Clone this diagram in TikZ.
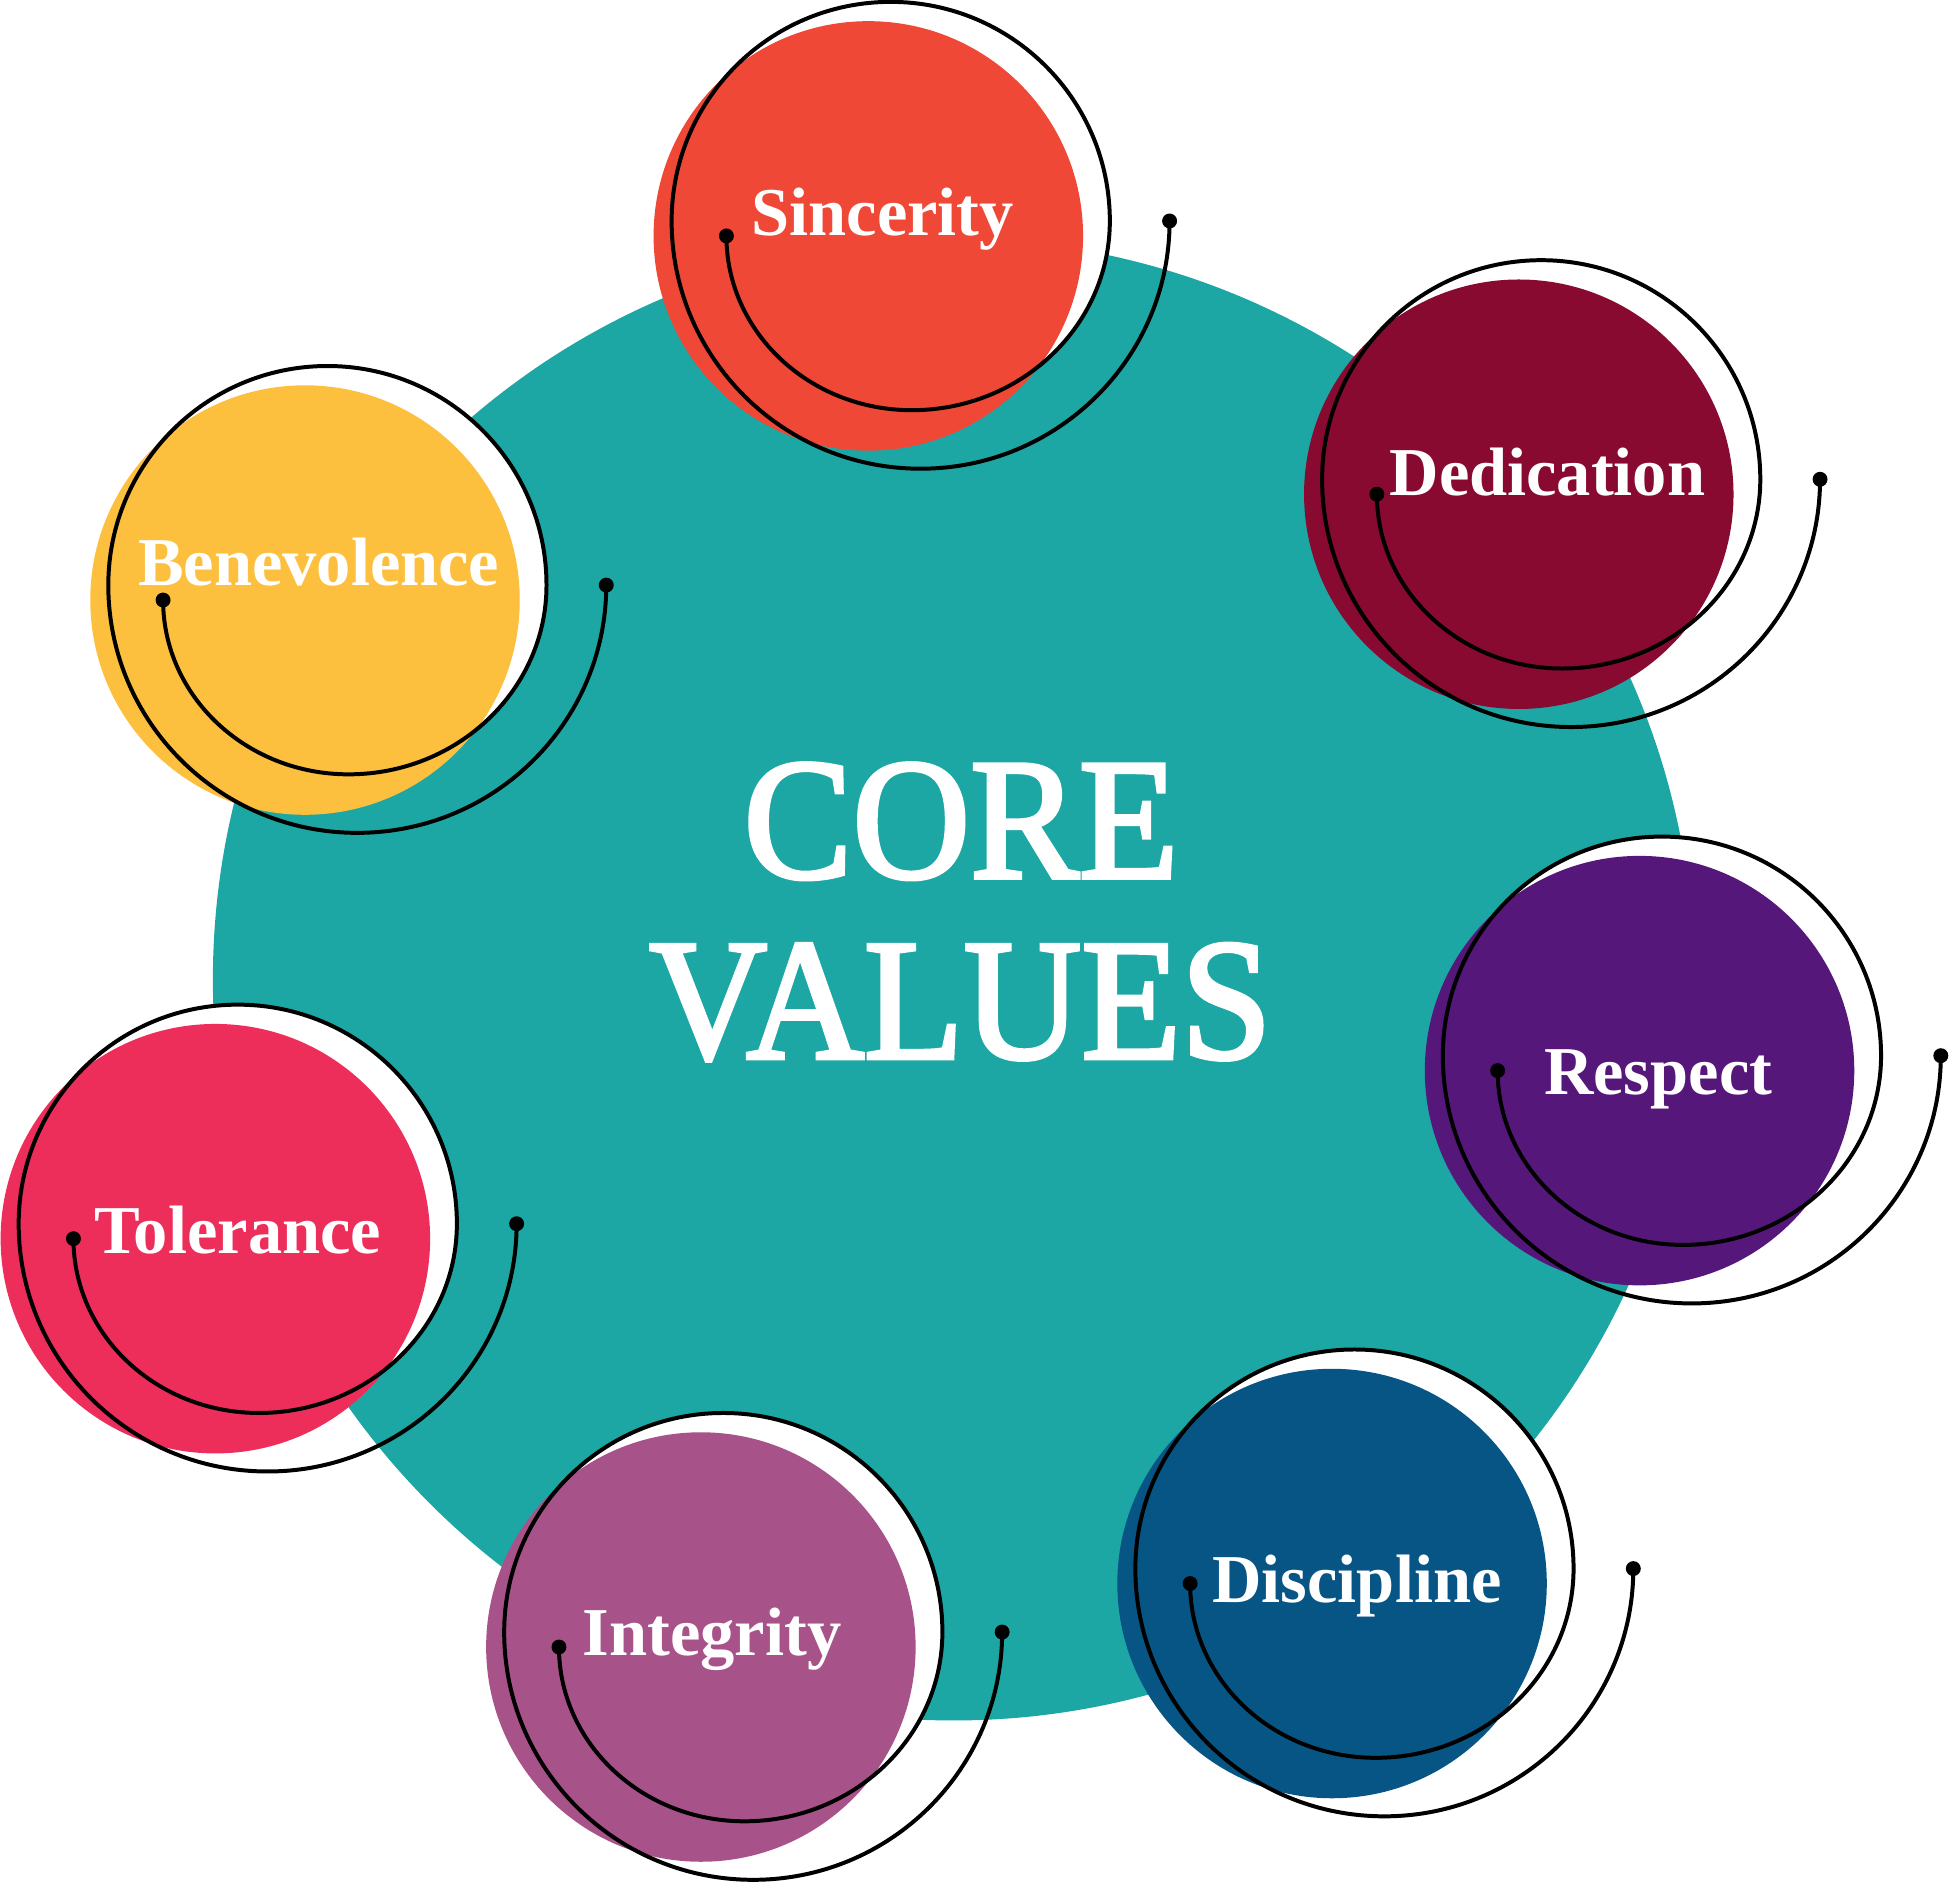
\documentclass[tikz,border=0pt]{standalone}
\usepackage{fontspec}
\setmainfont{Liberation Serif}
\newcommand\thicktext[1]{\special{pdf:literal direct 2 Tr 1.6 w}#1\special{pdf:literal direct 0 Tr}}
\definecolor{coreteal}{HTML}{1CA7A4}
\definecolor{csinc}{HTML}{EF4836}
\definecolor{cdedi}{HTML}{880A31}
\definecolor{cresp}{HTML}{55187A}
\definecolor{cdisc}{HTML}{075585}
\definecolor{cinte}{HTML}{A8528A}
\definecolor{ctole}{HTML}{EE2E5A}
\definecolor{cbene}{HTML}{FDBF3E}
\tikzset{
  valuedisc/.style={circle, inner sep=0pt, minimum size=172.5pt},
  spiralline/.style={line width=1.6pt, draw=black, line cap=round},
  valuetext/.style={text=white, font=\bfseries\fontsize{27.5}{30}\selectfont, anchor=base, inner sep=0pt},
  titletext/.style={text=white, font=\fontsize{65.5}{70}\selectfont, anchor=base, inner sep=0pt},
}
\newcommand\valueitem[7]{%
  \fill[white] (#2-114,#3)
     arc[start angle=180, end angle=90, x radius=149, y radius=140]
     arc[start angle=90, end angle=0, x radius=159, y radius=152]
     arc[start angle=0, end angle=-180, radius=176] -- cycle;
  \node[valuedisc, fill=#4] (#1) at (#2,#3) {};
  \draw[spiralline] (#2-114,#3)
     arc[start angle=180, end angle=90, x radius=149, y radius=140]
     arc[start angle=90, end angle=0, x radius=159, y radius=152]
     arc[start angle=0, end angle=-180, radius=176]
     arc[start angle=180, end angle=0, x radius=200, y radius=199];
  \coordinate (#1-in) at (#2-114,#3);
  \coordinate (#1-out) at (#2+242,#3-12);
  \fill (#1-in) circle[radius=6];
  \fill (#1-out) circle[radius=6];
  \node[valuetext] (#1-text) at (#6,#7) {#5};
}
\begin{document}
\begin{tikzpicture}[x=0.5pt, y=-0.5pt]
\useasboundingbox (0,0) rectangle (1568,1515);
\node[circle, fill=coreteal, inner sep=0pt, minimum size=595pt] (core) at (766,787) {};
\node[titletext] (coretop) at (772,705) {\scalebox{1}[1.06]{\thicktext{CORE}}};
\node[titletext] (corebot) at (771.5,850) {\scalebox{1}[1.06]{\thicktext{VALUES}}};
\valueitem{sinc}{697.5}{189.5}{csinc}{Sincerity}{709}{189}
\valueitem{dedi}{1220}{397}{cdedi}{Dedication}{1243}{398}
\valueitem{resp}{1317}{860}{cresp}{Respect}{1332}{879}
\valueitem{disc}{1070}{1272}{cdisc}{Discipline}{1090}{1287}
\valueitem{inte}{563}{1323}{cinte}{Integrity}{572}{1330}
\valueitem{tole}{173}{995}{ctole}{Tolerance}{191}{1007}
\valueitem{bene}{245}{482}{cbene}{Benevolence}{256}{470}
\end{tikzpicture}
\end{document}
